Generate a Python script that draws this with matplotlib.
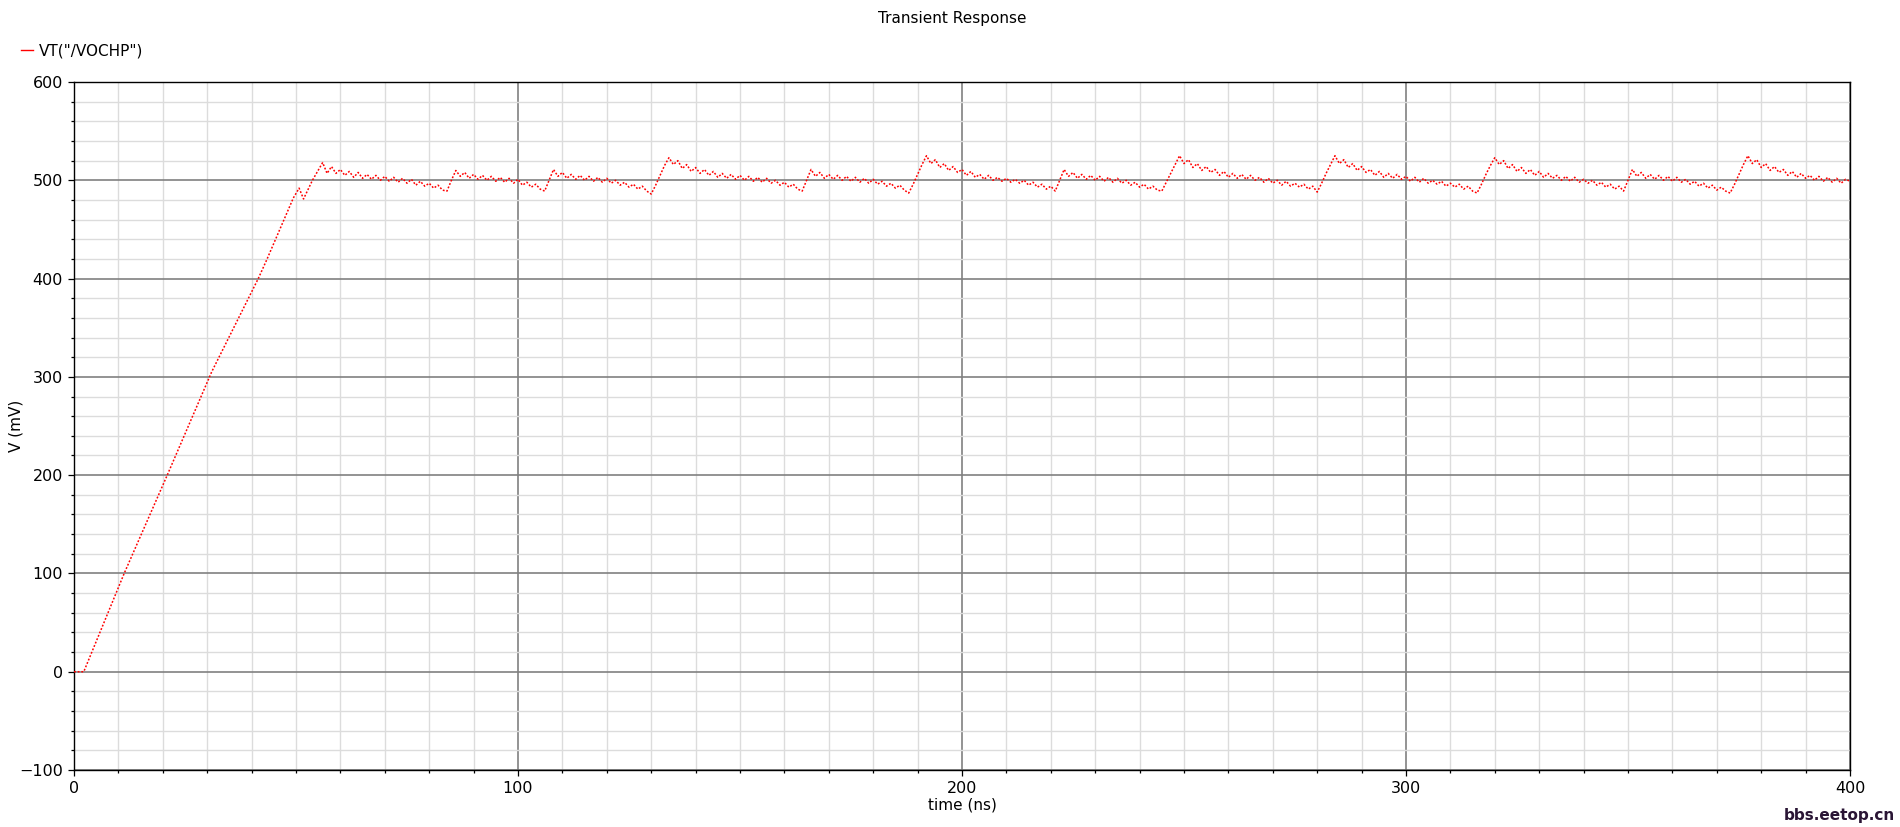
import numpy as np
import matplotlib
matplotlib.use("Agg")
import matplotlib.pyplot as plt
from matplotlib.lines import Line2D
from matplotlib.ticker import MultipleLocator

# ramp up at power-on (ns, mV)
t_ramp = [0, 2.2, 11.3, 21, 31, 41.5, 43.4, 49.4, 50.7, 51.7, 53.7]
v_ramp = [0, 0, 100, 200, 305, 400, 419, 482, 492, 481, 500]

# settled ripple, 1 ns per sample, each list starts at the time in seg_start
seg_start = [56, 85, 107, 131, 165, 189, 222, 246, 281, 317, 350, 374]
seg_a = [518, 507, 514, 507, 511, 505, 509, 503, 508, 502, 506, 501, 505, 500, 504,
         499, 503, 498, 502, 497, 501, 495, 499, 494, 497, 492, 495, 490, 489]
seg_b = [500, 510, 504, 508, 502, 506, 501, 505, 500, 504, 499, 503, 498, 502, 497,
         501, 495, 498, 493, 496, 491, 489]
seg_c = [500, 511, 504, 508, 502, 506, 501, 505, 500, 504, 499, 503, 498, 502, 497,
         500, 495, 498, 493, 496, 491, 494, 489, 486]
seg_d = [495, 505, 515, 523, 516, 520, 512, 516, 509, 513, 507, 511, 505, 509, 503,
         507, 502, 506, 501, 505, 500, 504, 499, 503, 498, 502, 497, 500, 495, 498,
         493, 496, 491, 489]
seg_e = [500, 511, 504, 508, 502, 506, 501, 505, 500, 504, 499, 503, 498, 502, 497,
         501, 496, 499, 494, 497, 492, 495, 490, 487]
seg_f = [496, 506, 516, 525, 517, 521, 513, 517, 510, 514, 508, 511, 505, 509, 503,
         506, 501, 505, 500, 503, 499, 502, 498, 501, 497, 500, 495, 498, 493, 496,
         491, 494, 489]
seg_g = [500, 511, 504, 508, 502, 506, 501, 505, 500, 504, 499, 503, 498, 502, 497,
         500, 495, 498, 493, 496, 491, 494, 490, 489]
seg_h = [498, 507, 516, 525, 517, 521, 513, 517, 510, 514, 508, 511, 505, 509, 503,
         507, 502, 506, 501, 505, 500, 503, 498, 502, 497, 500, 495, 499, 494, 497,
         493, 496, 491, 494, 488]
seg_i = [497, 507, 516, 525, 517, 521, 513, 517, 510, 514, 508, 511, 505, 509, 503,
         507, 502, 506, 501, 504, 499, 503, 498, 502, 497, 500, 496, 499, 494, 497,
         493, 496, 491, 494, 489, 487]
seg_j = [496, 506, 515, 523, 516, 520, 512, 516, 509, 513, 507, 511, 505, 509, 503,
         507, 502, 505, 500, 504, 499, 503, 498, 501, 497, 500, 495, 498, 493, 496,
         491, 494, 489]
seg_k = [500, 511, 504, 508, 502, 506, 501, 505, 500, 504, 499, 503, 498, 501, 496,
         499, 494, 497, 492, 495, 490, 493, 489, 487]
seg_l = [496, 506, 516, 525, 517, 521, 513, 517, 510, 514, 508, 511, 505, 509, 503,
         507, 502, 505, 500, 504, 499, 503, 498, 502, 497, 501, 499]

segments = [seg_a, seg_b, seg_c, seg_d, seg_e, seg_f, seg_g, seg_h, seg_i, seg_j, seg_k, seg_l]

t_all = list(t_ramp)
v_all = list(v_ramp)
for start, seg in zip(seg_start, segments):
    t_all += list(start + np.arange(len(seg)))
    v_all += seg

fig = plt.figure(figsize=(19, 8.27), dpi=100)
ax = fig.add_axes([74 / 1900, 1 - 770 / 827, 1776 / 1900, 688 / 827])

ax.plot(t_all, v_all, color="#ff0000", lw=1.1, linestyle=(0, (1.2, 1.2)), zorder=3)

ax.set_xlim(0, 400)
ax.set_ylim(-100, 600)
ax.xaxis.set_major_locator(MultipleLocator(100))
ax.xaxis.set_minor_locator(MultipleLocator(10))
ax.yaxis.set_major_locator(MultipleLocator(100))
ax.yaxis.set_minor_locator(MultipleLocator(20))

ax.grid(which="minor", color="#dcdcdc", lw=1.0, zorder=0)
ax.grid(which="major", color="#808080", lw=1.2, zorder=1)
ax.set_axisbelow(True)

ax.tick_params(which="major", length=4.5, width=0.9, labelsize=11.5, direction="out")
ax.tick_params(which="minor", length=2.2, width=0.9, direction="out")
for s in ax.spines.values():
    s.set_color("black")
    s.set_linewidth(1.0)

ax.set_xlabel("time (ns)", fontsize=11, labelpad=1)
ax.set_ylabel("V (mV)", fontsize=11, va="center")
ax.yaxis.set_label_coords(-0.0327, 0.5)

fig.text(952 / 1900, 1 - 18 / 827, "Transient Response", ha="center", va="center", fontsize=11)

proxy = Line2D([], [], color="#ff0000", lw=1.0)
fig.legend(handles=[proxy], labels=['VT("/VOCHP")'], loc="center left",
           bbox_to_anchor=(0.011, 1 - 51 / 827), frameon=False, fontsize=11,
           handlelength=0.8, handletextpad=0.4, borderpad=0, borderaxespad=0)

fig.text(0.9975, 0.0145, "bbs.eetop.cn", ha="right", va="center", fontsize=11,
         fontweight="bold", color="#2a1535",
         family=["Liberation Sans Narrow", "DejaVu Sans"])

fig.savefig("out.png", dpi=100)
